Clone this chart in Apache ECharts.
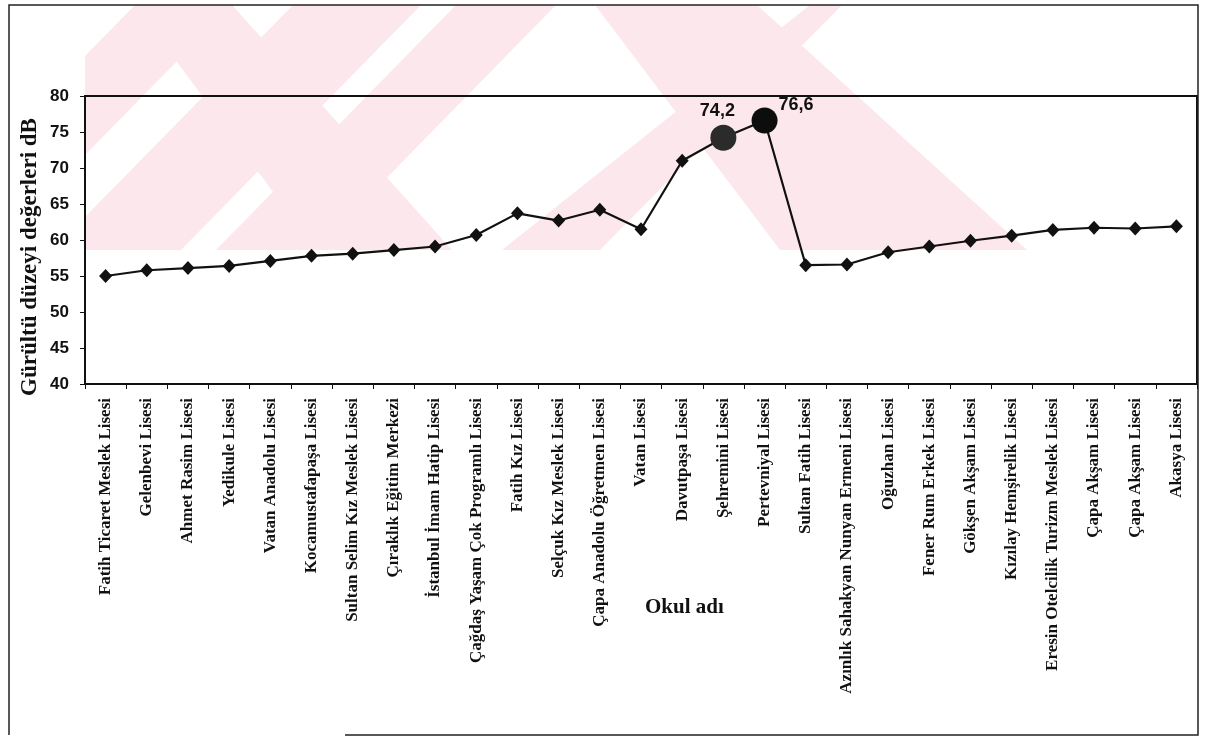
<!DOCTYPE html>
<html>
<head>
<meta charset="utf-8">
<script src="https://cdn.jsdelivr.net/npm/echarts@6/dist/echarts.min.js"></script>
<style>
	html, body { margin: 0; padding: 0; background: #fff; }
	#chart { width: 1205px; height: 739px; }
</style>
</head>
<body>
<div id="chart"></div>
<script>
// okul adları (x ekseni)
var schools = [ 'Fatih Ticaret Meslek Lisesi', 'Gelenbevi Lisesi', 'Ahmet Rasim Lisesi',
		'Yedikule Lisesi', 'Vatan Anadolu Lisesi', 'Kocamustafapaşa Lisesi',
		'Sultan Selim Kız Meslek Lisesi', 'Çıraklık Eğitim Merkezi', 'İstanbul İmam Hatip Lisesi',
		'Çağdaş Yaşam Çok Programlı Lisesi', 'Fatih Kız Lisesi', 'Selçuk Kız Meslek Lisesi',
		'Çapa Anadolu Öğretmen Lisesi', 'Vatan Lisesi', 'Davutpaşa Lisesi', 'Şehremini Lisesi',
		'Pertevniyal Lisesi', 'Sultan Fatih Lisesi', 'Azınlık Sahakyan Nunyan Ermeni Lisesi',
		'Oğuzhan Lisesi', 'Fener Rum Erkek Lisesi', 'Gökşen Akşam Lisesi', 'Kızılay Hemşirelik Lisesi',
		'Eresin Otelcilik Turizm Meslek Lisesi', 'Çapa Akşam Lisesi', 'Çapa Akşam Lisesi',
		'Akasya Lisesi' ];
// gürültü düzeyi (dB)
var noiseDb = [ 55.0, 55.8, 56.1, 56.4, 57.1, 57.8, 58.1, 58.6, 59.1, 60.7, 63.7, 62.7,
		64.2, 61.5, 71.0, 74.2, 76.6, 56.5, 56.6, 58.3, 59.1, 59.9, 60.6, 61.4, 61.7, 61.6, 61.9 ];
// y ekseni ölçeği
var yMin = 40, yMax = 80, yStep = 5;
// etiketli (en yüksek) noktalar
var peakIdx = [ 15, 16 ];

var serif = 'Liberation Serif';
var sans = 'Liberation Sans';
var pink = '#fce8ec';

// arka plandaki filigran
function wm(points) {
	return { type : 'polygon', z : -10, silent : true, shape : { points : points }, style : { fill : pink } };
}

var peakStyle = [
	{ color : '#2b2b2b', position : 'top', offset : [ -6, 0 ] },
	{ color : '#0d0d0d', position : 'right', offset : [ -4, -15 ] }
];

var seriesData = [];
for (var i = 0; i < noiseDb.length; i++) {
	var k = peakIdx.indexOf(i);
	if (k < 0) {
		seriesData.push(noiseDb[i]);
		continue;
	}
	seriesData.push({
		value : noiseDb[i],
		symbol : 'circle',
		symbolSize : 26,
		itemStyle : { color : peakStyle[k].color },
		label : {
			show : true,
			position : peakStyle[k].position,
			offset : peakStyle[k].offset,
			formatter : function(p) { return String(p.value.toFixed(1)).replace('.', ','); },
			fontFamily : sans,
			fontWeight : 'bold',
			fontSize : 18,
			color : '#111'
		}
	});
}

var myChart = echarts.init(document.getElementById('chart'));
var option = {
	backgroundColor : '#fff',
	animation : false,
	grid : {
		left : 85, right : 8, top : 96, bottom : 355,
		show : true, borderColor : '#111', borderWidth : 2
	},
	xAxis : {
		type : 'category',
		data : schools,
		boundaryGap : true,
		axisLine : { lineStyle : { color : '#111', width : 2 } },
		axisTick : { show : true, length : 5, lineStyle : { color : '#111' } },
		axisLabel : {
			interval : 0, rotate : 90, margin : 14,
			fontFamily : serif, fontWeight : 'bold', fontSize : 17, color : '#111'
		}
	},
	yAxis : {
		type : 'value',
		min : yMin, max : yMax, interval : yStep,
		axisLine : { show : true, lineStyle : { color : '#111', width : 2 } },
		axisTick : { show : true, length : 5, lineStyle : { color : '#111' } },
		splitLine : { show : false },
		axisLabel : { margin : 16, fontFamily : sans, fontWeight : 'bold', fontSize : 17, color : '#111' }
	},
	series : [ {
		type : 'line',
		data : seriesData,
		symbol : 'diamond',
		symbolSize : [ 13, 14 ],
		itemStyle : { color : '#111' },
		lineStyle : { color : '#111', width : 2.2 }
	} ],
	graphic : [
		wm([ [ 135, 5 ], [ 232, 5 ], [ 85, 155 ], [ 85, 56 ] ]),
		wm([ [ 135, 5 ], [ 232, 5 ], [ 452, 250 ], [ 316, 250 ] ]),
		wm([ [ 293, 5 ], [ 421, 5 ], [ 181, 250 ], [ 85, 250 ], [ 85, 217 ] ]),
		wm([ [ 456, 5 ], [ 556, 5 ], [ 316, 250 ], [ 216, 250 ] ]),
		wm([ [ 595, 5 ], [ 757, 5 ], [ 1027, 250 ], [ 780, 250 ] ]),
		wm([ [ 810, 5 ], [ 842, 5 ], [ 600, 250 ], [ 502, 250 ] ]),
		{
			type : 'text', x : 30, y : 257, rotation : Math.PI / 2,
			style : {
				text : 'Gürültü düzeyi değerleri dB', font : 'bold 23px "Liberation Serif"',
				fill : '#111', align : 'center', verticalAlign : 'middle'
			}
		},
		{
			type : 'text', left : 645, top : 597,
			style : { text : 'Okul adı', font : 'bold 21px "Liberation Serif"', fill : '#111' }
		},
		{
			type : 'polyline', silent : true,
			shape : { points : [ [ 345, 735 ], [ 1198, 735 ], [ 1198, 5 ], [ 9, 5 ], [ 9, 735 ] ] },
			style : { stroke : '#222', lineWidth : 1.5, fill : null }
		}
	]
};
myChart.setOption(option);
</script>
</body>
</html>
